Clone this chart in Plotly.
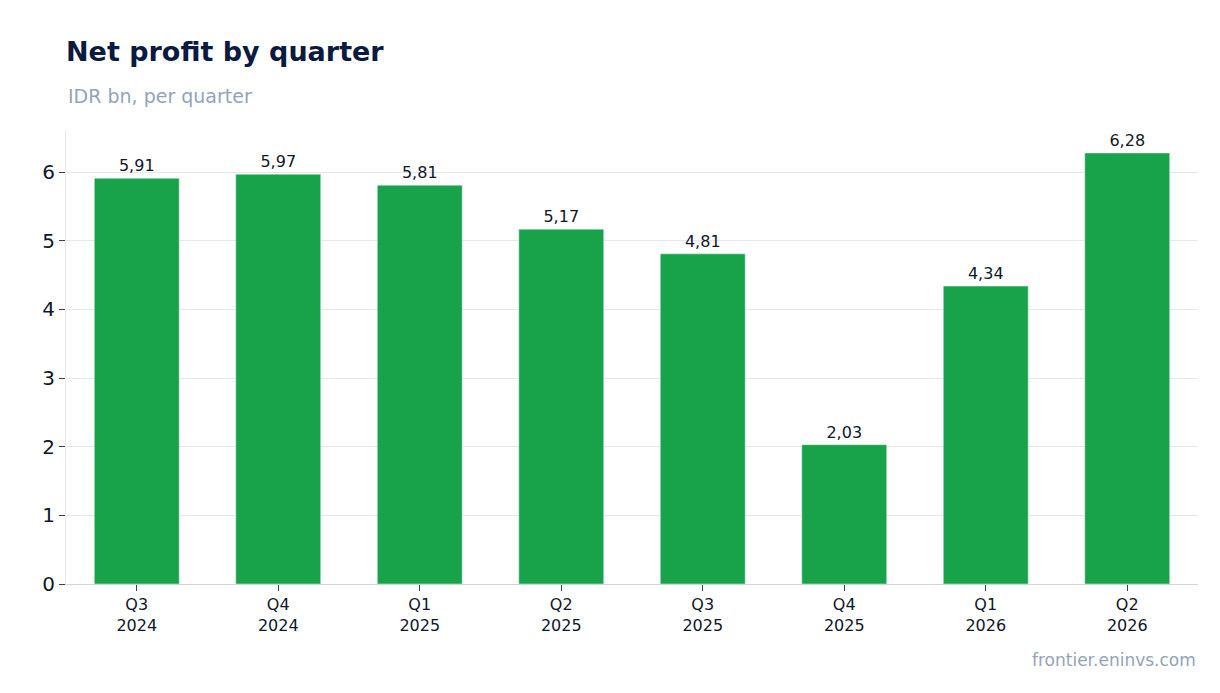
import plotly.graph_objects as go

quarters = ["Q3<br>2024", "Q4<br>2024", "Q1<br>2025", "Q2<br>2025",
            "Q3<br>2025", "Q4<br>2025", "Q1<br>2026", "Q2<br>2026"]
profit = [5.91, 5.97, 5.81, 5.17, 4.81, 2.03, 4.34, 6.28]

fig = go.Figure(go.Bar(
    x=quarters, y=profit, marker_color="#18a34a", width=0.6,
    texttemplate="%{y:.2f}", textposition="outside",
    textfont=dict(size=16, color="#0f172a"), cliponaxis=False,
))

fig.update_layout(
    width=1220, height=693, separators=",.",
    font=dict(family="DejaVu Sans", color="#0f172a"),
    plot_bgcolor="white", paper_bgcolor="white",
    margin=dict(l=58, r=30, t=123, b=117),
    showlegend=False,
    title=dict(text="<b>Net profit by quarter</b>", x=58/1220, xanchor="left",
               y=1 - 44/693, yanchor="middle", font=dict(size=27, color="#0b1a40")),
    annotations=[
        dict(text="IDR bn, per quarter", xref="paper", yref="paper", x=0, y=1 + 35/453,
             xanchor="left", yanchor="middle", showarrow=False,
             font=dict(size=19, color="#94a3b8")),
        dict(text="frontier.eninvs.com", xref="paper", yref="paper", x=1, y=-76/453,
             xanchor="right", yanchor="middle", showarrow=False,
             font=dict(size=17, color="#94a3b8")),
    ],
)
fig.update_xaxes(showline=True, linecolor="#d1d5db", ticks="outside", ticklen=6,
                 tickcolor="#334155", tickfont=dict(size=16))
fig.update_yaxes(range=[0, 6.6], dtick=1, showgrid=True, gridcolor="#e5e7eb",
                 showline=True, linecolor="#e5e7eb", ticks="outside", ticklen=6,
                 tickcolor="#334155", tickfont=dict(size=20), zeroline=False)

fig.write_html("out.html")
